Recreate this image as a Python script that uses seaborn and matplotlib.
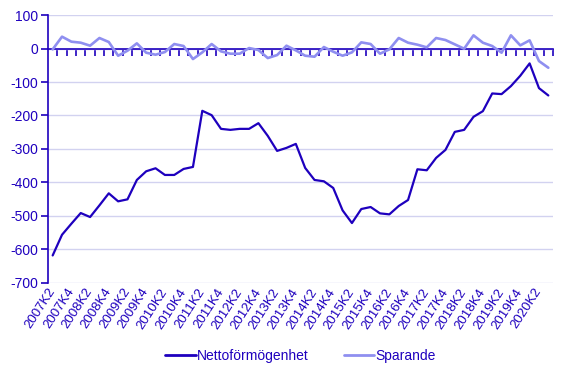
import numpy as np
import pandas as pd
import seaborn as sns
import matplotlib
matplotlib.use('Agg')
from matplotlib import pyplot as plt
from matplotlib.ticker import FixedLocator, NullFormatter

# kvartal 2007K2 - 2020K3
quarters = ['%dK%d' % (y, q) for y in range(2007, 2021) for q in range(1, 5)][1:-1]

netto = [-619, -557, -524, -492, -504, -469, -433, -457, -451, -393,
         -367, -358, -378, -378, -360, -354, -186, -199, -240, -243,
         -240, -240, -223, -261, -306, -297, -285, -357, -393, -397,
         -417, -484, -522, -480, -474, -493, -496, -471, -453, -361,
         -364, -327, -303, -249, -243, -204, -187, -134, -136, -112,
         -81, -44, -118, -140]
sparande = [-2, 36, 21, 18, 9, 32, 20, -21, -6, 16,
            -12, -18, -10, 14, 8, -31, -11, 14, -8, -15,
            -15, 2, -4, -28, -19, 9, -5, -21, -24, 5,
            -9, -21, -11, 19, 14, -15, -2, 32, 18, 12,
            4, 32, 26, 13, 0, 40, 18, 8, -12, 40,
            10, 25, -37, -57]

names = ['Nettoförmögenhet', 'Sparande']
colors = ['#1e00be', '#8f8ff0']
text_col = '#1e00be'
grid_col = '#d2d2f0'

pos = np.arange(len(quarters))
df = pd.DataFrame({'pos': np.concatenate([pos, pos]),
                   'value': netto + sparande,
                   'serie': [names[0]] * len(netto) + [names[1]] * len(sparande)})

sns.set_style('white')
plt.rcParams['font.family'] = ['Liberation Sans', 'DejaVu Sans']

fig = plt.figure(figsize=(5.71, 3.77), dpi=100)
ax = fig.add_axes([48 / 571, 1 - 282.5 / 377, 505 / 571, 267.2 / 377])

sns.lineplot(data=df, x='pos', y='value', hue='serie', hue_order=names,
             palette=colors, ax=ax, sort=False, legend=True)
for line, lw in zip(ax.lines, [1.6, 1.9]):
    line.set_linewidth(lw)
    line.set_zorder(3)

ax.set_xlim(-0.5, len(quarters) - 0.5)
ax.set_ylim(-700, 100)
ax.set_yticks(range(-700, 101, 100))
ax.set_yticklabels([str(v) for v in range(-700, 101, 100)])
ax.yaxis.grid(True, color=grid_col, linewidth=1)
ax.set_axisbelow(True)
ax.set_xlabel('')
ax.set_ylabel('')

for s in ['top', 'right']:
    ax.spines[s].set_visible(False)
ax.spines['left'].set_color(text_col)
ax.spines['left'].set_linewidth(1.2)
# x-axeln ligger vid noll med streck mellan kvartalen
ax.spines['bottom'].set_position(('data', 0))
ax.spines['bottom'].set_color(text_col)
ax.spines['bottom'].set_linewidth(1.2)
ax.xaxis.set_major_locator(FixedLocator(list(pos + 0.5)))
ax.xaxis.set_major_formatter(NullFormatter())
ax.tick_params(axis='x', bottom=True, direction='out', length=5, width=1.2,
               color=text_col)
ax.tick_params(axis='y', left=True, direction='out', length=5, width=1.2,
               color=text_col, labelsize=10, labelcolor=text_col, pad=2)

sec = ax.secondary_xaxis('bottom')
sec.set_xticks(pos[::2])
sec.set_xticklabels(quarters[::2], rotation=57, ha='right', va='center',
                    rotation_mode='anchor', fontsize=9.5, color=text_col)
sec.tick_params(bottom=True, length=0, pad=5)
sec.spines['bottom'].set_visible(False)

leg = ax.legend(loc='center', bbox_to_anchor=(0.5, -0.275), ncol=2, frameon=False,
                handlelength=2.2, handletextpad=0.1, columnspacing=2.5, fontsize=10)
for t in leg.get_texts():
    t.set_color(text_col)
for h in leg.get_lines():
    h.set_linewidth(2)

fig.savefig('out.png', dpi=100)
